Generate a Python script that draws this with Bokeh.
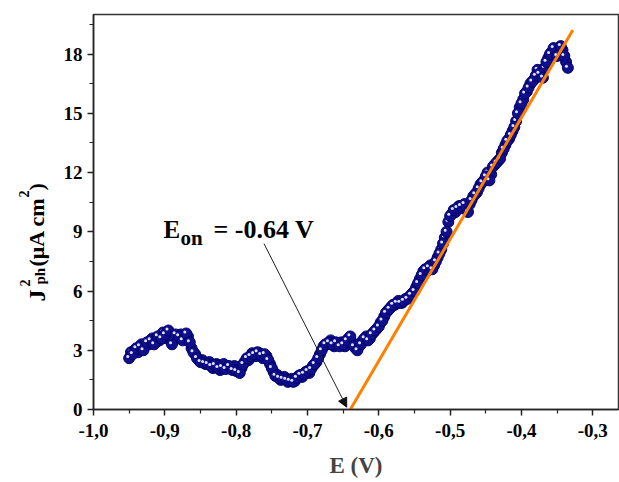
import math
from bokeh.plotting import figure
from bokeh.layouts import row
from bokeh.models import (Range1d, FixedTicker, CustomJSTickFormatter, Label,
                          Arrow, NormalHead, ColumnDataSource)
from bokeh.transform import dodge
from bokeh.embed import file_html
from bokeh.resources import INLINE

# ---------------- data ----------------
E = [-0.950, -0.945, -0.940, -0.935, -0.930, -0.925, -0.920, -0.915, -0.910, -0.905,
     -0.900, -0.895, -0.890, -0.885, -0.880, -0.875, -0.870, -0.865, -0.860, -0.855,
     -0.850, -0.845, -0.840, -0.835, -0.830, -0.825, -0.820, -0.815, -0.810, -0.805,
     -0.800, -0.795, -0.790, -0.785, -0.780, -0.775, -0.770, -0.765, -0.760, -0.755,
     -0.750, -0.745, -0.740, -0.735, -0.730, -0.725, -0.720, -0.715, -0.710, -0.705,
     -0.700, -0.695, -0.690, -0.685, -0.680, -0.675, -0.670, -0.665, -0.660, -0.655,
     -0.650, -0.645, -0.640, -0.635, -0.630, -0.625, -0.620, -0.615, -0.610, -0.605,
     -0.600, -0.595, -0.590, -0.585, -0.580, -0.575, -0.570, -0.565, -0.560, -0.555,
     -0.550, -0.545, -0.540, -0.535, -0.530, -0.525, -0.520, -0.515, -0.510, -0.505,
     -0.500, -0.495, -0.490, -0.485, -0.480, -0.475, -0.470, -0.465, -0.460, -0.455,
     -0.450, -0.445, -0.440, -0.435, -0.430, -0.425, -0.420, -0.415, -0.410, -0.405,
     -0.400, -0.395, -0.390, -0.385, -0.380, -0.375, -0.370, -0.365, -0.360, -0.355,
     -0.350, -0.345, -0.340, -0.335]
J2 = [2.6, 2.8, 3.1, 3.2, 3.0, 3.4, 3.5, 3.3, 3.7, 3.6,
      3.8, 4.0, 3.3, 3.8, 3.7, 3.5, 3.85, 3.4, 2.9, 2.6,
      2.4, 2.35, 2.3, 2.2, 2.25, 2.1, 2.15, 2.05, 2.2, 2.0,
      1.95, 1.85, 2.3, 2.6, 2.7, 2.8, 2.9, 2.75, 2.8, 2.5,
      2.1, 1.7, 1.6, 1.55, 1.5, 1.45, 1.4, 1.6, 1.75, 1.8,
      1.95, 2.05, 2.3, 2.6, 3.0, 3.3, 3.4, 3.3, 3.4, 3.2,
      3.3, 3.5, 3.7, 3.2, 3.0, 3.3, 3.6, 3.5, 3.8, 4.0,
      4.2, 4.5, 4.9, 5.1, 5.3, 5.4, 5.4, 5.5, 5.6, 5.8,
      6.0, 6.4, 6.8, 7.1, 7.2, 7.1, 7.5, 7.9, 8.4, 9.0,
      9.8, 10.1, 10.2, 10.3, 10.4, 10.0, 10.6, 10.9, 11.2, 11.5,
      11.8, 11.6, 12.3, 12.5, 12.7, 13.2, 13.6, 13.9, 14.3, 15.0,
      15.5, 16.0, 16.3, 16.6, 16.9, 17.0, 16.8, 17.6, 18.0, 18.3,
      17.9, 18.4, 17.9, 17.3]

# second (interleaved) sweep of measured points
E_b = [-0.9475, -0.9425, -0.9375, -0.9325, -0.9275, -0.9225, -0.9175, -0.9125, -0.9075, -0.9025,
       -0.8975, -0.8925, -0.8875, -0.8825, -0.8775, -0.8725, -0.8675, -0.8625, -0.8575, -0.8525,
       -0.8475, -0.8425, -0.8375, -0.8325, -0.8275, -0.8225, -0.8175, -0.8125, -0.8075, -0.8025,
       -0.7975, -0.7925, -0.7875, -0.7825, -0.7775, -0.7725, -0.7675, -0.7625, -0.7575, -0.7525,
       -0.7475, -0.7425, -0.7375, -0.7325, -0.7275, -0.7225, -0.7175, -0.7125, -0.7075, -0.7025,
       -0.6975, -0.6925, -0.6875, -0.6825, -0.6775, -0.6725, -0.6675, -0.6625, -0.6575, -0.6525,
       -0.6475, -0.6425, -0.6375, -0.6325, -0.6275, -0.6225, -0.6175, -0.6125, -0.6075, -0.6025,
       -0.5975, -0.5925, -0.5875, -0.5825, -0.5775, -0.5725, -0.5675, -0.5625, -0.5575, -0.5525,
       -0.5475, -0.5425, -0.5375, -0.5325, -0.5275, -0.5225, -0.5175, -0.5125, -0.5075, -0.5025,
       -0.4975, -0.4925, -0.4875, -0.4825, -0.4775, -0.4725, -0.4675, -0.4625, -0.4575, -0.4525,
       -0.4475, -0.4425, -0.4375, -0.4325, -0.4275, -0.4225, -0.4175, -0.4125, -0.4075, -0.4025,
       -0.3975, -0.3925, -0.3875, -0.3825, -0.3775, -0.3725, -0.3675, -0.3625, -0.3575, -0.3525,
       -0.3475, -0.3425, -0.3375]
J2_b = [2.9, 3.0, 2.9, 3.3, 3.2, 3.3, 3.6, 3.4, 3.5, 3.9,
        3.6, 3.7, 3.5, 3.6, 3.8, 3.6, 3.7, 3.1, 2.8, 2.5,
        2.5, 2.3, 2.4, 2.1, 2.3, 2.0, 2.3, 2.1, 2.05, 2.2,
        2.0, 2.1, 2.45, 2.5, 2.85, 2.7, 2.85, 2.6, 2.7, 2.3,
        1.9, 1.75, 1.5, 1.65, 1.4, 1.55, 1.45, 1.7, 1.65, 1.9,
        1.85, 2.2, 2.4, 2.8, 3.2, 3.3, 3.5, 3.2, 3.3, 3.4,
        3.2, 3.6, 3.4, 3.1, 3.2, 3.5, 3.7, 3.6, 3.9, 4.1,
        4.4, 4.7, 5.0, 5.2, 5.3, 5.5, 5.4, 5.6, 5.7, 5.9,
        6.2, 6.6, 7.0, 7.0, 7.3, 7.3, 7.7, 8.1, 8.7, 9.5,
        9.9, 10.0, 10.3, 10.2, 10.3, 10.4, 10.8, 11.0, 11.4, 11.6,
        12.0, 11.9, 12.4, 12.6, 13.0, 13.4, 13.7, 14.1, 14.6, 15.3,
        15.7, 16.1, 16.5, 16.7, 17.2, 16.9, 17.3, 17.8, 18.1, 18.2,
        18.0, 18.2, 17.6]

x_ticks = [-1.0, -0.9, -0.8, -0.7, -0.6, -0.5, -0.4, -0.3]
x_minor = [-0.95, -0.85, -0.75, -0.65, -0.55, -0.45, -0.35]
y_ticks = [0, 3, 6, 9, 12, 15, 18]
y_minor = [1.5, 4.5, 7.5, 10.5, 13.5, 16.5, 19.5]

E_on = -0.64          # onset potential (fit intercept)
fit_slope = 61.6      # slope of the linear fit
fit_end = -0.328      # upper end of the fit line
arrow_start = (-0.761, 8.4)
arrow_end = (-0.645, 0.12)

FONT = "Liberation Serif"
W, H = 619, 482
LEFT_W = 60
TOP, BOTTOM = 14, 73

# ---------------- main figure ----------------
p = figure(width=W - LEFT_W, height=H, output_backend="svg", toolbar_location=None,
           x_range=Range1d(-1.0, -0.264), y_range=Range1d(0, 20))
p.min_border_left = 93 - LEFT_W
p.min_border_right = 1
p.min_border_top = TOP
p.min_border_bottom = BOTTOM
p.background_fill_color = "white"
p.border_fill_color = "white"
p.outline_line_color = "#333333"
p.outline_line_width = 1.5
p.xgrid.visible = False
p.ygrid.visible = False

for ax in (p.xaxis[0], p.yaxis[0]):
    ax.axis_line_color = "#222222"
    ax.axis_line_width = 1.5
    ax.major_tick_line_color = "#222222"
    ax.minor_tick_line_color = "#222222"
    ax.major_tick_line_width = 1.5
    ax.minor_tick_line_width = 1.2
    ax.major_tick_out = 6
    ax.major_tick_in = 0
    ax.minor_tick_out = 4
    ax.minor_tick_in = 0
    ax.major_label_text_font = FONT
    ax.major_label_text_font_style = "bold"
    ax.major_label_text_font_size = "19px"
    ax.major_label_text_color = "black"

p.xaxis.ticker = FixedTicker(ticks=x_ticks, minor_ticks=x_minor)
p.yaxis.ticker = FixedTicker(ticks=y_ticks, minor_ticks=y_minor)
p.xaxis.formatter = CustomJSTickFormatter(code="return tick.toFixed(1).replace('.', ',');")
p.yaxis.formatter = CustomJSTickFormatter(code="return tick.toFixed(0);")
p.xaxis.major_label_standoff = 8
p.yaxis.major_label_standoff = 5

p.xaxis.axis_label = "E (V)"
p.xaxis.axis_label_text_font = FONT
p.xaxis.axis_label_text_font_style = "bold"
p.xaxis.axis_label_text_font_size = "23px"
p.xaxis.axis_label_standoff = 13

# ---------------- data marks ----------------
src_b = ColumnDataSource(dict(x=E_b, y=J2_b))
src = ColumnDataSource(dict(x=E, y=J2))
for s in (src_b, src):
    p.scatter("x", "y", source=s, size=11, fill_color="#10108a",
              line_color="#00006e", line_width=1)
    p.scatter(dodge("x", -0.002), dodge("y", 0.08), source=s, size=3,
              fill_color="#e0e0ff", line_color=None)

# linear fit
p.line([E_on, fit_end], [0, fit_slope * (fit_end - E_on)],
       line_color="#ff8000", line_width=3)

# arrow to onset
p.add_layout(Arrow(x_start=arrow_start[0], y_start=arrow_start[1],
                   x_end=arrow_end[0], y_end=arrow_end[1],
                   line_color="#222222", line_width=1,
                   end=NormalHead(size=9, fill_color="#111111",
                                  line_color="#111111", line_width=1)))


def lbl(fig, txt, x, y, size, angle=0.0, units="screen"):
    fig.add_layout(Label(x=x, y=y, x_units=units, y_units=units,
                         text=txt, text_font=FONT, text_font_style="bold",
                         text_font_size=size, text_color="black",
                         text_align="left", text_baseline="alphabetic",
                         angle=angle))


# onset text (frame-relative screen units; frame left = 93, bottom = 409)
lbl(p, "E", 70, 180, "25px")
lbl(p, "on", 87, 172, "21px")
lbl(p, "= -0.64 V", 120, 180, "26px")

# ---------------- y-axis title panel ----------------
# its frame is aligned with the main frame (canvas rows TOP .. H-BOTTOM);
# data y = H - canvas row, data x = canvas column
q = figure(width=LEFT_W, height=H, output_backend="svg", toolbar_location=None,
           x_range=Range1d(0, LEFT_W), y_range=Range1d(BOTTOM, H - TOP),
           x_axis_type=None, y_axis_type=None)
q.min_border_left = 0
q.min_border_right = 0
q.min_border_top = TOP
q.min_border_bottom = BOTTOM
q.title = None
q.outline_line_color = None
q.xgrid.visible = False
q.ygrid.visible = False
q.background_fill_color = "white"
q.border_fill_color = "white"

r = math.pi / 2
lbl(q, "J", 36, H - 301, "24px", r, "data")
lbl(q, "2", 24, H - 286, "14px", r, "data")
lbl(q, "ph", 39, H - 284, "15px", r, "data")
lbl(q, "(\u03bcA cm", 36, H - 266, "22px", r, "data")
lbl(q, "2", 23, H - 197, "14px", r, "data")
lbl(q, ")", 36, H - 190, "22px", r, "data")

layout = row(q, p, spacing=0)
open("out.html", "w").write(file_html(layout, INLINE))
